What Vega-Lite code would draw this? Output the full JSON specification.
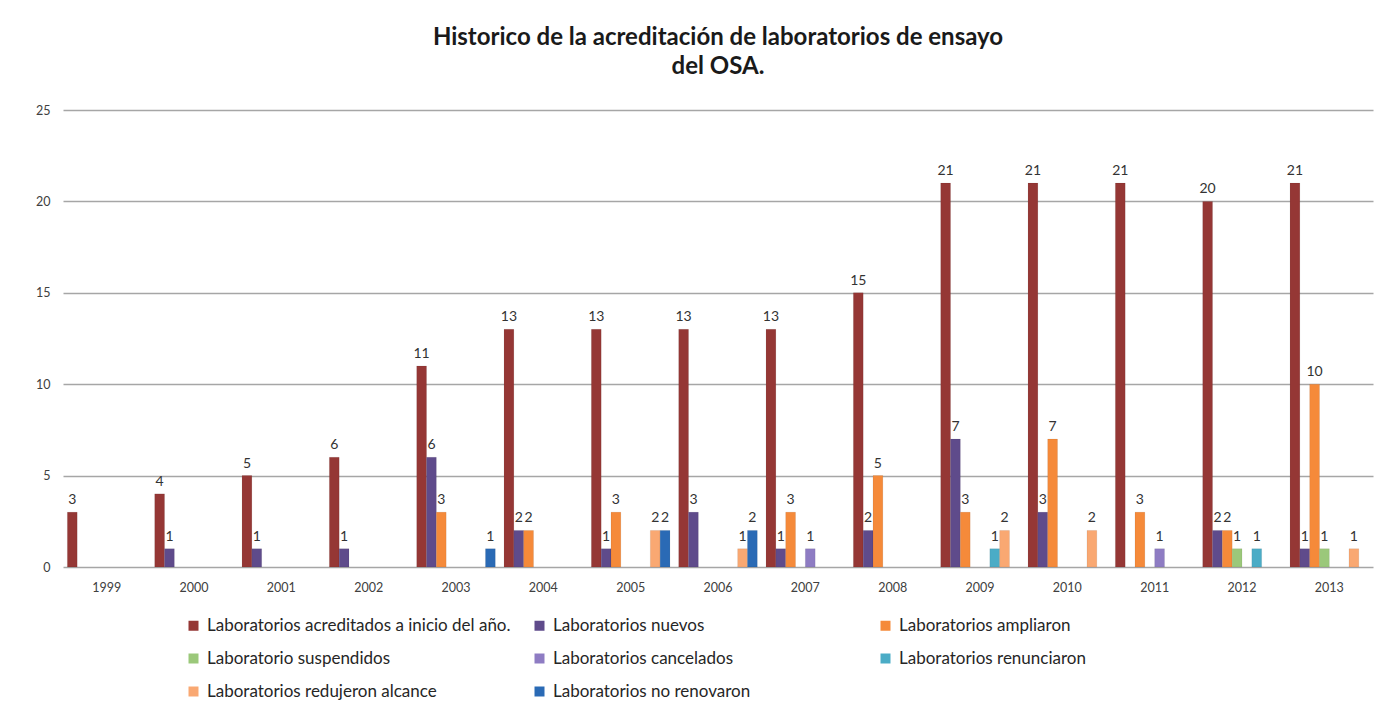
{
  "$schema": "https://vega.github.io/schema/vega-lite/v6.json",
  "autosize": {"type": "none"},
  "padding": {"left": 63, "top": 110, "right": 24, "bottom": 144},
  "width": 1310,
  "height": 457,
  "background": "white",
  "config": {
    "font": "Lato",
    "view": {"stroke": null},
    "axis": {"labelFont": "Lato", "labelColor": "#404040", "labelFontSize": 12.5}
  },
  "title": {
    "text": ["Historico de la acreditación de laboratorios  de ensayo", "del OSA."],
    "font": "Lato",
    "fontSize": 24,
    "fontWeight": "bold",
    "color": "#1a1a1a",
    "lineHeight": 29,
    "anchor": "middle",
    "offset": 25
  },
  "data": {
    "values": [
      {"anio": "1999", "serie": "Laboratorios acreditados a inicio del año.", "valor": 3},
      {"anio": "2000", "serie": "Laboratorios acreditados a inicio del año.", "valor": 4},
      {"anio": "2000", "serie": "Laboratorios nuevos", "valor": 1},
      {"anio": "2001", "serie": "Laboratorios acreditados a inicio del año.", "valor": 5},
      {"anio": "2001", "serie": "Laboratorios nuevos", "valor": 1},
      {"anio": "2002", "serie": "Laboratorios acreditados a inicio del año.", "valor": 6},
      {"anio": "2002", "serie": "Laboratorios nuevos", "valor": 1},
      {"anio": "2003", "serie": "Laboratorios acreditados a inicio del año.", "valor": 11},
      {"anio": "2003", "serie": "Laboratorios nuevos", "valor": 6},
      {"anio": "2003", "serie": "Laboratorios ampliaron", "valor": 3},
      {"anio": "2003", "serie": "Laboratorios no renovaron", "valor": 1},
      {"anio": "2004", "serie": "Laboratorios acreditados a inicio del año.", "valor": 13},
      {"anio": "2004", "serie": "Laboratorios nuevos", "valor": 2},
      {"anio": "2004", "serie": "Laboratorios ampliaron", "valor": 2},
      {"anio": "2005", "serie": "Laboratorios acreditados a inicio del año.", "valor": 13},
      {"anio": "2005", "serie": "Laboratorios nuevos", "valor": 1},
      {"anio": "2005", "serie": "Laboratorios ampliaron", "valor": 3},
      {"anio": "2005", "serie": "Laboratorios redujeron alcance", "valor": 2},
      {"anio": "2005", "serie": "Laboratorios no renovaron", "valor": 2},
      {"anio": "2006", "serie": "Laboratorios acreditados a inicio del año.", "valor": 13},
      {"anio": "2006", "serie": "Laboratorios nuevos", "valor": 3},
      {"anio": "2006", "serie": "Laboratorios redujeron alcance", "valor": 1},
      {"anio": "2006", "serie": "Laboratorios no renovaron", "valor": 2},
      {"anio": "2007", "serie": "Laboratorios acreditados a inicio del año.", "valor": 13},
      {"anio": "2007", "serie": "Laboratorios nuevos", "valor": 1},
      {"anio": "2007", "serie": "Laboratorios ampliaron", "valor": 3},
      {"anio": "2007", "serie": "Laboratorios cancelados", "valor": 1},
      {"anio": "2008", "serie": "Laboratorios acreditados a inicio del año.", "valor": 15},
      {"anio": "2008", "serie": "Laboratorios nuevos", "valor": 2},
      {"anio": "2008", "serie": "Laboratorios ampliaron", "valor": 5},
      {"anio": "2009", "serie": "Laboratorios acreditados a inicio del año.", "valor": 21},
      {"anio": "2009", "serie": "Laboratorios nuevos", "valor": 7},
      {"anio": "2009", "serie": "Laboratorios ampliaron", "valor": 3},
      {"anio": "2009", "serie": "Laboratorios renunciaron", "valor": 1},
      {"anio": "2009", "serie": "Laboratorios redujeron alcance", "valor": 2},
      {"anio": "2010", "serie": "Laboratorios acreditados a inicio del año.", "valor": 21},
      {"anio": "2010", "serie": "Laboratorios nuevos", "valor": 3},
      {"anio": "2010", "serie": "Laboratorios ampliaron", "valor": 7},
      {"anio": "2010", "serie": "Laboratorios redujeron alcance", "valor": 2},
      {"anio": "2011", "serie": "Laboratorios acreditados a inicio del año.", "valor": 21},
      {"anio": "2011", "serie": "Laboratorios ampliaron", "valor": 3},
      {"anio": "2011", "serie": "Laboratorios cancelados", "valor": 1},
      {"anio": "2012", "serie": "Laboratorios acreditados a inicio del año.", "valor": 20},
      {"anio": "2012", "serie": "Laboratorios nuevos", "valor": 2},
      {"anio": "2012", "serie": "Laboratorios ampliaron", "valor": 2},
      {"anio": "2012", "serie": "Laboratorio suspendidos", "valor": 1},
      {"anio": "2012", "serie": "Laboratorios renunciaron", "valor": 1},
      {"anio": "2013", "serie": "Laboratorios acreditados a inicio del año.", "valor": 21},
      {"anio": "2013", "serie": "Laboratorios nuevos", "valor": 1},
      {"anio": "2013", "serie": "Laboratorios ampliaron", "valor": 10},
      {"anio": "2013", "serie": "Laboratorio suspendidos", "valor": 1},
      {"anio": "2013", "serie": "Laboratorios redujeron alcance", "valor": 1}
    ]
  },
  "encoding": {
    "x": {
      "field": "anio",
      "type": "nominal",
      "sort": null,
      "scale": {"domain": ["1999","2000","2001","2002","2003","2004","2005","2006","2007","2008","2009","2010","2011","2012","2013"], "paddingInner": 0.1, "paddingOuter": 0.05},
      "axis": {"title": null, "labelAngle": 0, "ticks": false, "domain": false, "labelPadding": 14, "grid": false}
    },
    "xOffset": {
      "field": "serie",
      "type": "nominal",
      "scale": {"domain": ["Laboratorios acreditados a inicio del año.", "Laboratorios nuevos", "Laboratorios ampliaron", "Laboratorio suspendidos", "Laboratorios cancelados", "Laboratorios renunciaron", "Laboratorios redujeron alcance", "Laboratorios no renovaron"], "paddingInner": 0}
    },
    "y": {
      "field": "valor",
      "type": "quantitative",
      "scale": {"domain": [0, 25], "nice": false},
      "axis": {"title": null, "values": [0, 5, 10, 15, 20, 25], "ticks": false, "domain": false, "labelPadding": 13, "gridColor": "#a6a6a6", "gridWidth": 1.6, "gridOpacity": 1}
    }
  },
  "layer": [
    {
      "mark": {"type": "bar", "stroke": "#00000022", "strokeWidth": 0.5},
      "encoding": {
        "color": {
          "field": "serie",
          "type": "nominal",
          "scale": {
            "domain": ["Laboratorios acreditados a inicio del año.", "Laboratorios nuevos", "Laboratorios ampliaron", "Laboratorio suspendidos", "Laboratorios cancelados", "Laboratorios renunciaron", "Laboratorios redujeron alcance", "Laboratorios no renovaron"],
            "range": ["#953735", "#5f4b8b", "#f58a3a", "#9bc87a", "#8e7cc3", "#4bacc6", "#f9a872", "#2a6ab5"]
          },
          "legend": {
            "title": null,
            "orient": "none",
            "legendX": 122,
            "legendY": 507,
            "direction": "horizontal",
            "columns": 3,
            "gridAlign": "all",
            "columnPadding": 20,
            "rowPadding": 15,
            "symbolType": "square",
            "symbolSize": 100,
            "symbolStrokeWidth": 0,
            "symbolOffset": 0,
            "labelOffset": 5,
            "labelFont": "Lato",
            "labelFontSize": 17,
            "labelColor": "#262626",
            "labelLimit": 400
          }
        }
      }
    },
    {
      "mark": {"type": "text", "baseline": "bottom", "dy": -5, "font": "Lato", "fontSize": 14, "color": "#333333"},
      "encoding": {
        "text": {"field": "valor", "type": "quantitative"}
      }
    }
  ]
}
